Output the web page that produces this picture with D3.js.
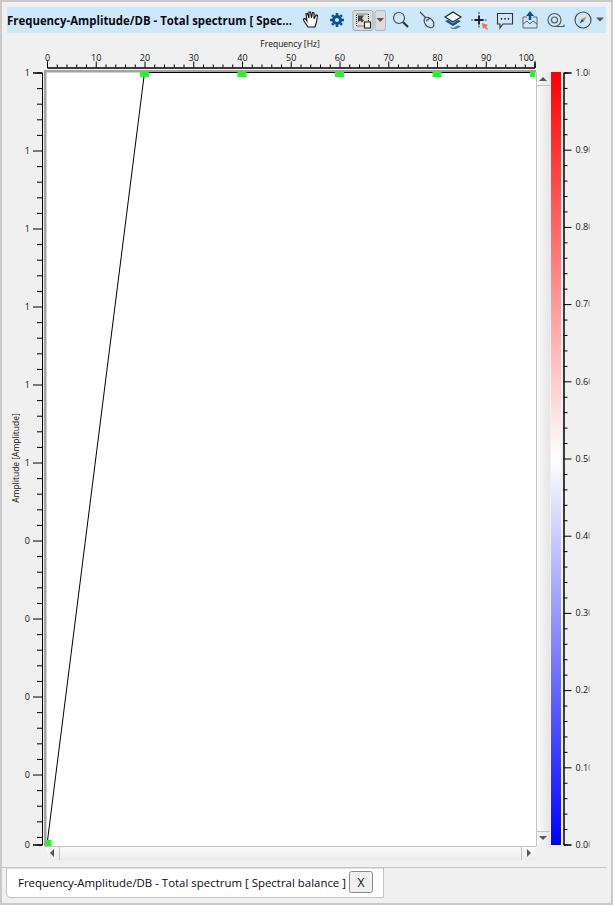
<!DOCTYPE html>
<html>
<head>
<meta charset="utf-8">
<script src="https://d3js.org/d3.v7.min.js"></script>
<style>
  html, body { margin: 0; padding: 0; background: #f0f0f0; overflow: hidden; }
  svg { display: block; font-family: 'Open Sans', 'Noto Sans', sans-serif; }
</style>
</head>
<body>
<svg id="chart" width="613" height="905"></svg>
<script>
const titleText = 'Frequency-Amplitude/DB - Total spectrum [ Spec...';
const tabText = 'Frequency-Amplitude/DB - Total spectrum [ Spectral balance ]';
const xLabel = 'Frequency [Hz]';
const yLabel = 'Amplitude [Amplitude]';

// series
const frequency = [0, 20, 40, 60, 80, 100];
const amplitude = [0.0103, 1, 1, 1, 1, 1];

const xMajor = [0, 10, 20, 30, 40, 50, 60, 70, 80, 90, 100];
const yMajor = [1, 0.9, 0.8, 0.7, 0.6, 0.5, 0.4, 0.3, 0.2, 0.1, 0.0103];
const colorMajor = [0, 0.1, 0.2, 0.3, 0.4, 0.5, 0.6, 0.7, 0.8, 0.9, 1];
const colorStops = [0, 0.5, 1];
const colorRange = ['#0000ff', '#ffffff', '#ff0000'];

const svg = d3.select('#chart');
const defs = svg.append('defs');

const x = d3.scaleLinear().domain([0, 100]).range([47, 534.5]);
const y = d3.scaleLinear().domain([0.0103, 1]).range([844.5, 72.5]);
const c = d3.scaleLinear().domain([0, 1]).range([844.5, 72.5]);
const colorScale = d3.scaleLinear().domain(colorStops).range(colorRange);

// five minor intervals per major one
const minorOf = (top) => d3.range(1, top * 50).filter(i => i % 5 !== 0).map(i => i * 0.02);

// window frame
svg.append('rect').attr('width', 613).attr('height', 905).attr('fill', '#c9c9c9');
svg.append('rect').attr('x', 2).attr('y', 2).attr('width', 609).attr('height', 901).attr('fill', '#f0f0f0');

// title bar
svg.append('rect').attr('x', 7).attr('y', 7).attr('width', 599).attr('height', 26).attr('fill', '#cce8fa');
svg.append('text').attr('x', 7).attr('y', 24.5)
  .attr('font-size', 11.6).attr('font-weight', 700).attr('fill', '#0a0a14')
  .attr('textLength', 285).attr('lengthAdjust', 'spacingAndGlyphs')
  .text(titleText);

// toolbar
const ink = '#333';
const blue = '#0b4f8f';
const tool = (tx, ty) => svg.append('g').attr('transform', `translate(${tx},${ty})`)
  .attr('fill', 'none').attr('stroke', ink).attr('stroke-width', 1.1);

// hand
const hand = tool(311, 20);
hand.append('path').attr('fill', '#fff').attr('stroke', '#111')
  .attr('d', 'M-3 7 L-7 1 L-7.5 -1 L-6 -1.5 L-4 1 L-5 -6 L-3.5 -6.5 L-2 -2 L-2 -8 L-0.5 -8 L0.5 -2 L1.5 -7.5 L3 -7 L3 -1 L5 -5 L6.5 -4.5 L5.5 2 L4 7 Z');

// gear
const gear = tool(337, 20).attr('stroke', blue);
gear.append('circle').attr('r', 3.6).attr('stroke-width', 3);
d3.range(8).forEach(i => {
  gear.append('line').attr('x1', 0).attr('y1', -5).attr('x2', 0).attr('y2', -7)
    .attr('stroke-width', 2.6).attr('transform', `rotate(${i * 45})`);
});

// selected zoom extents button and its dropdown
svg.append('rect').attr('x', 353).attr('y', 10.5).attr('width', 20).attr('height', 20).attr('rx', 2)
  .attr('fill', '#dcdcdc').attr('stroke', '#a9a9a9');
const extents = tool(363, 20.5);
extents.append('rect').attr('x', -6.5).attr('y', -6.5).attr('width', 12).attr('height', 12)
  .attr('stroke-dasharray', '1 1').attr('stroke', '#222').attr('stroke-width', 1);
extents.append('path').attr('d', 'M-5 -5 L-5 2 L-3 0 L-1 2 L1 0 L-1 -2 L1 -5 Z').attr('fill', '#444').attr('stroke', 'none');
extents.append('rect').attr('x', 1.5).attr('y', 1.5).attr('width', 6).attr('height', 6).attr('fill', '#f2f2f2').attr('stroke', '#222');
svg.append('rect').attr('x', 375).attr('y', 10.5).attr('width', 10.5).attr('height', 20).attr('rx', 2)
  .attr('fill', '#dcdcdc').attr('stroke', '#b5b5b5');
svg.append('path').attr('d', 'M376.5 18 L384 18 L380.2 22 Z').attr('fill', '#555');

// magnifier
const mag = tool(400, 19);
mag.append('circle').attr('cx', -1).attr('cy', -1).attr('r', 5.5).attr('stroke', '#444');
mag.append('line').attr('x1', 3).attr('y1', 3).attr('x2', 8).attr('y2', 8).attr('stroke-width', 2.2);

// mouse
const mouse = tool(427, 20);
mouse.append('ellipse').attr('cx', 2).attr('cy', 2.5).attr('rx', 4).attr('ry', 6)
  .attr('transform', 'rotate(-40 2 2.5)').attr('stroke', '#444');
mouse.append('path').attr('d', 'M-7 -8 L-1 -2 M-1 1 L3 -2').attr('stroke', '#444');

// layers
const layers = tool(453, 20).attr('stroke', 'none');
layers.append('path').attr('d', 'M-8 -3 L0 -8 L8 -3 L0 2 Z').attr('fill', '#f4f8fb').attr('stroke', '#222');
layers.append('path').attr('d', 'M-8 1 L-5 0 L0 3.5 L5 0 L8 1 L0 6 Z').attr('fill', blue);
layers.append('path').attr('d', 'M-3 6.5 L0 8 L5 5.5 L8 6.5 L3 9 L-1 9 Z').attr('fill', '#5a7a95');

// crosshair
const cross = tool(479, 20);
cross.append('path').attr('d', 'M0 -8 L0 8 M-8 0 L8 0').attr('stroke', '#0f4f8f').attr('stroke-dasharray', '2 1.4');
cross.append('path').attr('d', 'M-4.5 0 L4.5 0 M0 -4.5 L0 4.5').attr('stroke', '#222').attr('stroke-width', 1.8);
cross.append('path').attr('d', 'M3 3 L9 5 L7 6.5 L9 9 L8 10 L5.5 7.5 L4 9 Z').attr('fill', '#e8743b').attr('stroke', 'none');

// comment
const comment = tool(505, 20);
comment.append('path').attr('d', 'M-7.5 -6.5 L7.5 -6.5 L7.5 4 L-2 4 L-5 8 L-5 4 L-7.5 4 Z').attr('stroke', '#333');
comment.selectAll('circle').data([-3.5, 0, 3.5]).join('circle')
  .attr('cx', d => d).attr('cy', -1.2).attr('r', 0.9).attr('fill', '#222').attr('stroke', 'none');

// export
const upload = tool(530, 20);
upload.append('path').attr('d', 'M-3 -3 L-7 -3 L-7 8 L7 8 L7 -3 L3 -3').attr('stroke', '#666').attr('stroke-width', 1);
upload.append('path').attr('d', 'M-7 4 L-3 1 L0 4 L3 1 L7 4').attr('stroke', '#666').attr('stroke-width', 1);
upload.append('path').attr('d', 'M0 -9 L4 -4 L1.3 -4 L1.3 0 L-1.3 0 L-1.3 -4 L-4 -4 Z').attr('fill', blue).attr('stroke', 'none');

// tape
const tape = tool(556, 20).attr('stroke', '#555');
tape.append('circle').attr('cx', -1.5).attr('cy', 0).attr('r', 6.5);
tape.append('circle').attr('cx', -1.5).attr('cy', 0).attr('r', 3);
tape.append('path').attr('d', 'M-1.5 6.5 L8 6.5 L8 4.5');

// compass and its arrow
const compass = tool(583, 20).attr('stroke', '#444');
compass.append('circle').attr('r', 8);
compass.append('path').attr('d', 'M3.5 -3.5 L1 1 L-1 -1 Z').attr('fill', '#e8743b').attr('stroke', 'none');
compass.append('path').attr('d', 'M-3.5 3.5 L-1 -1 L1 1 Z').attr('fill', blue).attr('stroke', 'none');
svg.append('path').attr('d', 'M596 17.5 L604 17.5 L600 21.5 Z').attr('fill', '#555');

// axis label text
const tickFill = '#111';
svg.append('text').attr('x', 290).attr('y', 47).attr('text-anchor', 'middle')
  .attr('font-size', 8.5).attr('fill', tickFill).text(xLabel);
svg.append('text').attr('transform', 'translate(19,458) rotate(-90)').attr('text-anchor', 'middle')
  .attr('font-size', 8.5).attr('fill', tickFill).text(yLabel);

// x axis
const xMinor = minorOf(1).map(v => v * 100);
const gx = svg.append('g').attr('transform', 'translate(0,67.5)');
gx.append('g').call(d3.axisTop(x).tickValues(xMinor).tickSize(3).tickFormat(''));
gx.append('g').call(d3.axisTop(x).tickValues(xMajor).tickSize(6).tickPadding(1).tickFormat(d3.format('d')));
// the last label is pushed back inside the axis end
gx.selectAll('.tick text').filter(d => d === 100).attr('text-anchor', 'end').attr('x', -1);

// y axis
const gy = svg.append('g').attr('transform', 'translate(42,0)');
gy.append('g').call(d3.axisLeft(y).tickValues(minorOf(1)).tickSize(5).tickFormat(''));
gy.append('g').call(d3.axisLeft(y).tickValues(yMajor).tickSize(9).tickPadding(3).tickFormat(d3.format('.0f')));

// plot area
svg.append('rect').attr('x', 44).attr('y', 70).attr('width', 492).attr('height', 776).attr('fill', '#a3a3a3');
svg.append('rect').attr('x', 46.5).attr('y', 72.5).attr('width', 489.5).attr('height', 773.5).attr('fill', '#fff');
defs.append('clipPath').attr('id', 'plot-clip').append('rect')
  .attr('x', 46).attr('y', 72).attr('width', 489).attr('height', 774);
const plot = svg.append('g').attr('clip-path', 'url(#plot-clip)');

const line = d3.line().x(d => x(d[0])).y(d => y(d[1]));
const points = frequency.map((f, i) => [f, amplitude[i]]);
plot.append('path').datum(points).attr('d', line).attr('fill', 'none').attr('stroke', '#000').attr('stroke-width', 1);
plot.selectAll('.pt').data(points).join('rect').attr('class', 'pt')
  .attr('x', d => x(d[0]) - 4.5).attr('y', d => y(d[1]) - 4.5)
  .attr('width', 9).attr('height', 9).attr('fill', '#1aff1a');

// scrollbars
const vGrad = defs.append('linearGradient').attr('id', 'vbar');
vGrad.append('stop').attr('offset', '0%').attr('stop-color', '#fbfbfb');
vGrad.append('stop').attr('offset', '100%').attr('stop-color', '#e6e6e6');
const hGrad = defs.append('linearGradient').attr('id', 'hbar').attr('x2', 0).attr('y2', 1);
hGrad.append('stop').attr('offset', '0%').attr('stop-color', '#fbfbfb');
hGrad.append('stop').attr('offset', '100%').attr('stop-color', '#ececec');

svg.append('rect').attr('x', 536).attr('y', 72).attr('width', 14).attr('height', 773).attr('fill', 'url(#vbar)');
svg.append('line').attr('x1', 536.5).attr('x2', 536.5).attr('y1', 72).attr('y2', 846).attr('stroke', '#c4c4c4');
svg.append('line').attr('x1', 537).attr('x2', 550).attr('y1', 85.5).attr('y2', 85.5).attr('stroke', '#c4c4c4');
svg.append('line').attr('x1', 537).attr('x2', 550).attr('y1', 831.5).attr('y2', 831.5).attr('stroke', '#c4c4c4');
svg.append('path').attr('d', 'M539 81 L547 81 L543 77 Z').attr('fill', '#555');
svg.append('path').attr('d', 'M539 836 L547 836 L543 840 Z').attr('fill', '#555');

svg.append('rect').attr('x', 46).attr('y', 846).attr('width', 489).attr('height', 14).attr('fill', 'url(#hbar)');
svg.append('line').attr('x1', 45).attr('x2', 536).attr('y1', 846.5).attr('y2', 846.5).attr('stroke', '#c4c4c4');
svg.append('line').attr('x1', 59.5).attr('x2', 59.5).attr('y1', 847).attr('y2', 860).attr('stroke', '#c4c4c4');
svg.append('line').attr('x1', 521.5).attr('x2', 521.5).attr('y1', 847).attr('y2', 860).attr('stroke', '#c4c4c4');
svg.append('path').attr('d', 'M54 849 L54 857 L50 853 Z').attr('fill', '#555');
svg.append('path').attr('d', 'M527 849 L527 857 L531 853 Z').attr('fill', '#555');

// colour bar
const barGrad = defs.append('linearGradient').attr('id', 'colorbar').attr('x1', 0).attr('y1', 1).attr('x2', 0).attr('y2', 0);
barGrad.selectAll('stop').data(colorStops).join('stop')
  .attr('offset', d => `${d * 100}%`).attr('stop-color', d => colorScale(d));
svg.append('rect').attr('x', 551).attr('y', 72).attr('width', 10).attr('height', 773).attr('fill', 'url(#colorbar)');

// the labels are cut off by the edge of the panel
defs.append('clipPath').attr('id', 'bar-clip').append('rect')
  .attr('x', 560).attr('y', 60).attr('width', 29.5).attr('height', 800);
const gc = svg.append('g').attr('clip-path', 'url(#bar-clip)').append('g').attr('transform', 'translate(563.5,0)');
gc.append('g').call(d3.axisRight(c).tickValues(minorOf(1)).tickSize(4).tickFormat(''));
gc.append('g').call(d3.axisRight(c).tickValues(colorMajor).tickSize(8).tickPadding(4).tickFormat(d3.format('.2f')));

svg.selectAll('.tick text').attr('font-size', 9).attr('fill', tickFill).attr('font-family', "'Open Sans', sans-serif");
svg.selectAll('.domain').attr('stroke', '#000');
svg.selectAll('.tick line').attr('stroke', '#000');

// tab strip
svg.append('line').attr('x1', 0).attr('x2', 607).attr('y1', 867.5).attr('y2', 867.5).attr('stroke', '#c4c4c4');
svg.append('path').attr('d', 'M6.5 868 L6.5 894 Q6.5 897.5 10 897.5 L383.5 897.5 L383.5 868 Z')
  .attr('fill', '#fff').attr('stroke', '#c4c4c4');
svg.append('text').attr('x', 18).attr('y', 887).attr('font-size', 11.2).attr('fill', '#0a0a14')
  .attr('textLength', 328).attr('lengthAdjust', 'spacingAndGlyphs').text(tabText);
svg.append('rect').attr('x', 349.5).attr('y', 871.5).attr('width', 23).attr('height', 21).attr('rx', 2)
  .attr('fill', '#f0f0f0').attr('stroke', '#8a8a8a');
svg.append('text').attr('x', 361).attr('y', 887).attr('text-anchor', 'middle').attr('font-size', 12).attr('fill', '#111').text('X');
</script>
</body>
</html>
